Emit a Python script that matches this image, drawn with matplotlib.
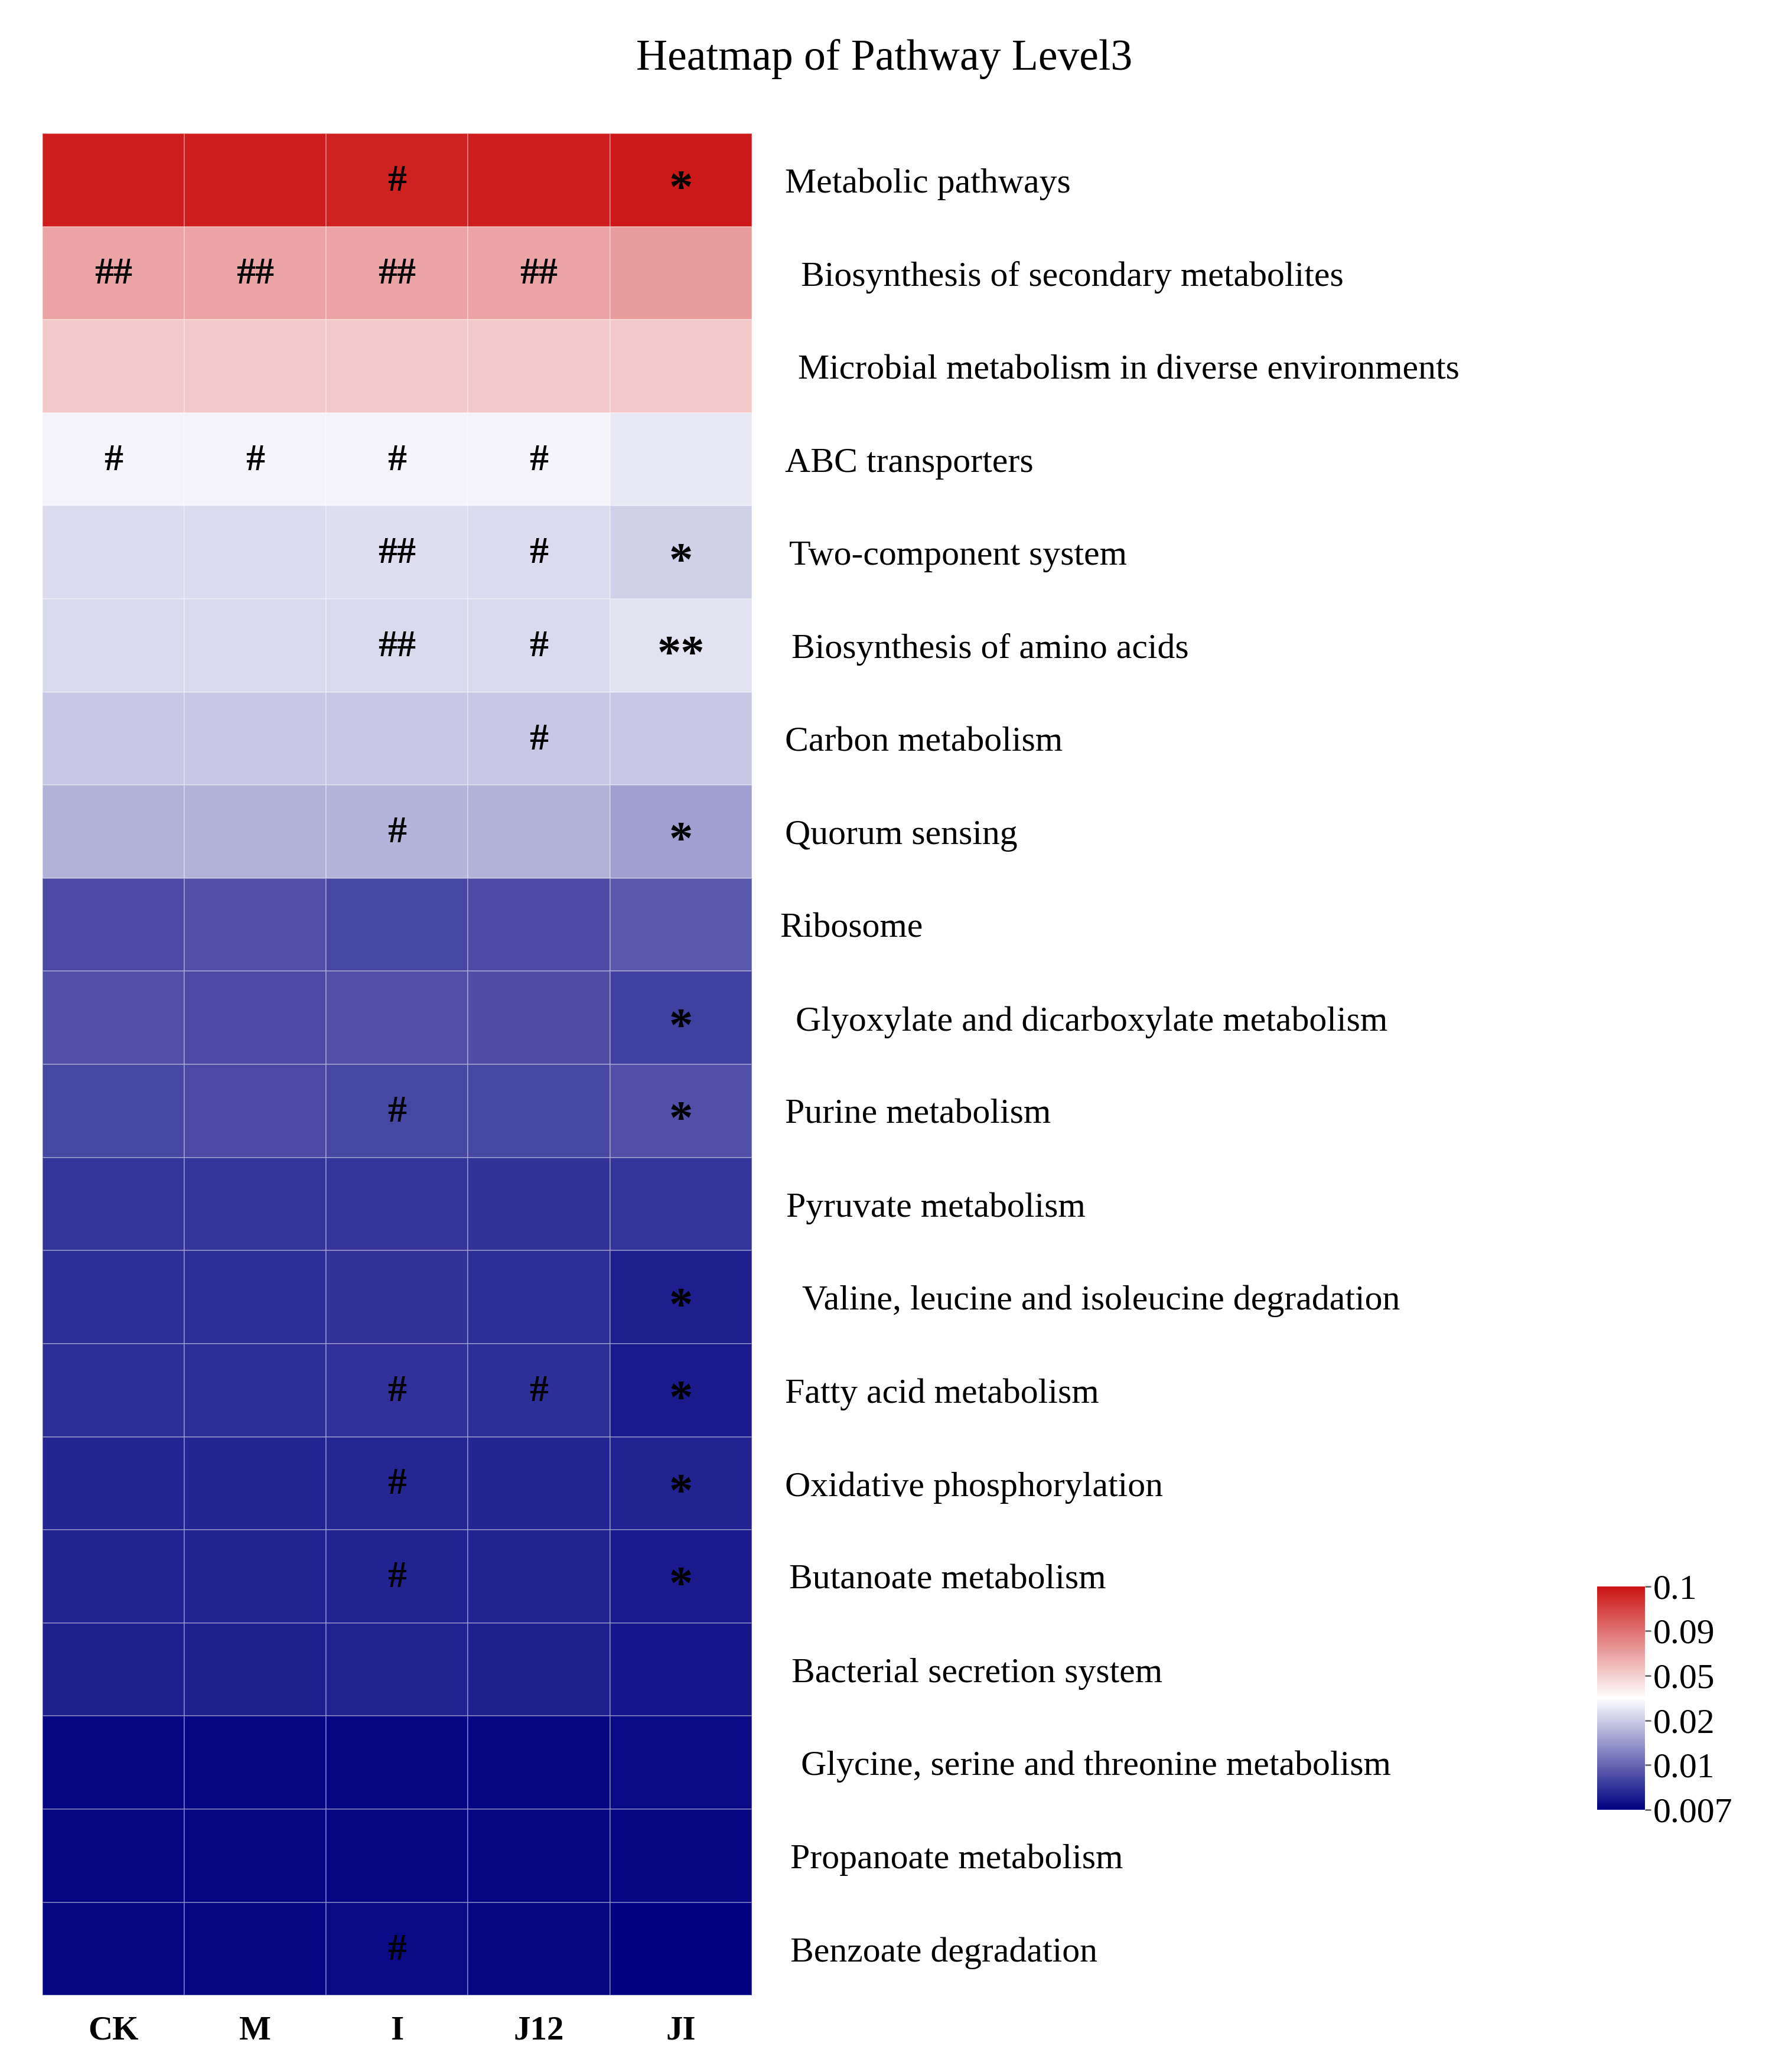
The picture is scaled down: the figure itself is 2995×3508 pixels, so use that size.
import matplotlib
matplotlib.use('Agg')
import matplotlib.pyplot as plt
import matplotlib.colors as mcolors
import numpy as np

plt.rcParams['font.family'] = ['Liberation Serif', 'DejaVu Serif']

groups = ['CK', 'M', 'I', 'J12', 'JI']

pathways = [
    'Metabolic pathways',
    'Biosynthesis of secondary metabolites',
    'Microbial metabolism in diverse environments',
    'ABC transporters',
    'Two-component system',
    'Biosynthesis of amino acids',
    'Carbon metabolism',
    'Quorum sensing',
    'Ribosome',
    'Glyoxylate and dicarboxylate metabolism',
    'Purine metabolism',
    'Pyruvate metabolism',
    'Valine, leucine and isoleucine degradation',
    'Fatty acid metabolism',
    'Oxidative phosphorylation',
    'Butanoate metabolism',
    'Bacterial secretion system',
    'Glycine, serine and threonine metabolism',
    'Propanoate metabolism',
    'Benzoate degradation',
]

# relative abundance, one row per pathway (CK, M, I, J12, JI)
abundance = [
    [0.0990, 0.0990, 0.0985, 0.0990, 0.0995],
    [0.0690, 0.0690, 0.0690, 0.0690, 0.0720],
    [0.0530, 0.0530, 0.0530, 0.0530, 0.0532],
    [0.0318, 0.0316, 0.0318, 0.0316, 0.0282],
    [0.0250, 0.0248, 0.0252, 0.0250, 0.0212],
    [0.0242, 0.0240, 0.0244, 0.0242, 0.0265],
    [0.0196, 0.0196, 0.0197, 0.0196, 0.0196],
    [0.0175, 0.0174, 0.0176, 0.0174, 0.0157],
    [0.00920, 0.00940, 0.00910, 0.00925, 0.00960],
    [0.00935, 0.00918, 0.00940, 0.00930, 0.00890],
    [0.00910, 0.00920, 0.00910, 0.00910, 0.00940],
    [0.00853, 0.00853, 0.00855, 0.00850, 0.00853],
    [0.00840, 0.00838, 0.00850, 0.00840, 0.00790],
    [0.00840, 0.00835, 0.00845, 0.00840, 0.00780],
    [0.00810, 0.00810, 0.00815, 0.00810, 0.00800],
    [0.00800, 0.00800, 0.00805, 0.00800, 0.00780],
    [0.00793, 0.00793, 0.00795, 0.00793, 0.00765],
    [0.00718, 0.00718, 0.00720, 0.00722, 0.00730],
    [0.00720, 0.00720, 0.00722, 0.00722, 0.00720],
    [0.00720, 0.00718, 0.00730, 0.00720, 0.00700],
]

# significance marks drawn in the cells
marks = [
    ['', '', '#', '', '*'],
    ['##', '##', '##', '##', ''],
    ['', '', '', '', ''],
    ['#', '#', '#', '#', ''],
    ['', '', '##', '#', '*'],
    ['', '', '##', '#', '**'],
    ['', '', '', '#', ''],
    ['', '', '#', '', '*'],
    ['', '', '', '', ''],
    ['', '', '', '', '*'],
    ['', '', '#', '', '*'],
    ['', '', '', '', ''],
    ['', '', '', '', '*'],
    ['', '', '#', '#', '*'],
    ['', '', '#', '', '*'],
    ['', '', '#', '', '*'],
    ['', '', '', '', ''],
    ['', '', '', '', ''],
    ['', '', '', '', ''],
    ['', '', '#', '', ''],
]

legend_ticks = [0.007, 0.01, 0.02, 0.05, 0.09, 0.1]
legend_labels = ['0.007', '0.01', '0.02', '0.05', '0.09', '0.1']

# small per-row shifts of the labels (pixels), as in the original figure
label_pad_px = [56, 83, 78, 56, 63, 67, 56, 56, 47, 74, 56, 58, 85, 56, 56, 63, 67, 83, 65, 65]

data = np.array(abundance)
steps = np.linspace(0, 1, len(legend_ticks))

def forward(x):
    return np.interp(x, legend_ticks, steps)

def inverse(t):
    return np.interp(t, steps, legend_ticks)

norm = mcolors.FuncNorm((forward, inverse), vmin=legend_ticks[0], vmax=legend_ticks[-1])
cmap = mcolors.LinearSegmentedColormap.from_list('nwf', ['#000080', '#FFFFFF', '#CB1414'])

fig = plt.figure(figsize=(29.95, 35.08), dpi=100)
ax = fig.add_axes([0.024, 0.037, 0.401, 0.8986])

mesh = ax.pcolormesh(data, cmap=cmap, norm=norm, edgecolors=(1, 1, 1, 0.3), linewidth=1.2)
ax.set_xlim(0, len(groups))
ax.set_ylim(len(pathways), 0)
for s in ax.spines.values():
    s.set_visible(False)

ax.set_xticks(np.arange(len(groups)) + 0.5)
ax.set_xticklabels(groups, fontsize=41, fontweight='bold')
ax.tick_params(axis='x', length=0, pad=25)
ax.set_yticks([])

for i, row in enumerate(marks):
    for j, m in enumerate(row):
        if not m:
            continue
        if '*' in m:
            ax.text(j + 0.5, i + 0.62, m, ha='center', va='center', fontsize=58, fontweight='bold')
        else:
            ax.text(j + 0.5, i + 0.52, m, ha='center', va='center', fontsize=46, fontweight='bold')

for i, name in enumerate(pathways):
    ax.annotate(name, xy=(1, i + 0.5), xycoords=('axes fraction', 'data'),
                xytext=(label_pad_px[i], -7), textcoords='offset pixels',
                ha='left', va='center', fontsize=43)

fig.text(0.5, 0.9715, 'Heatmap of Pathway Level3', ha='center', va='center', fontsize=53)

cax = fig.add_axes([0.9028, 0.1266, 0.027, 0.1078])
cb = fig.colorbar(mesh, cax=cax, ticks=legend_ticks)
cb.set_ticklabels(legend_labels)
cb.outline.set_visible(False)
cax.tick_params(labelsize=43, length=7, width=2, color='#666666', pad=3)

fig.savefig('out.png', dpi=100)
plt.close(fig)
